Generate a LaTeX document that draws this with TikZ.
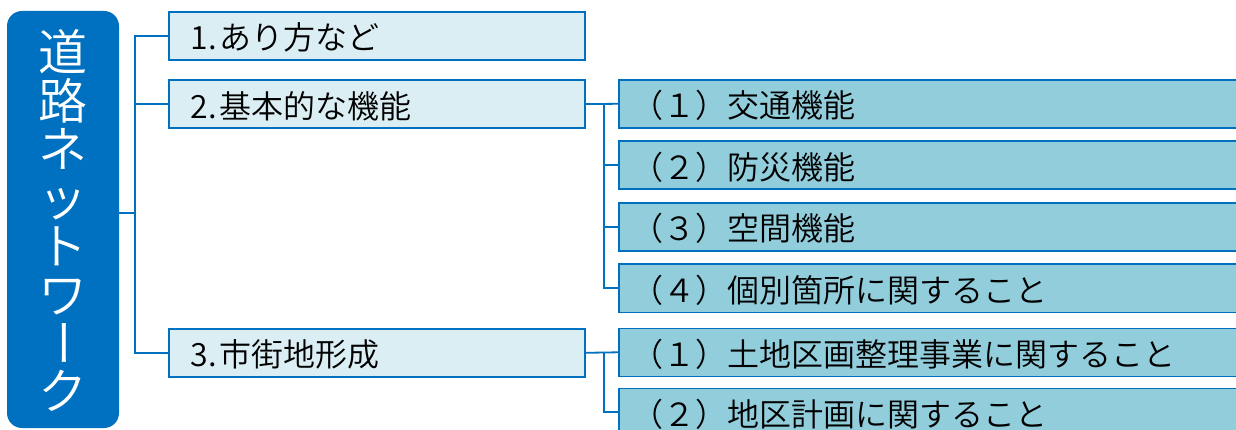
\documentclass[tikz,border=0pt]{standalone}
\usepackage{fontspec}
\setmainfont{Noto Sans CJK JP}[UprightFont={* DemiLight}]
\definecolor{mainblue}{RGB}{0,112,192}
\definecolor{lightfill}{RGB}{218,238,243}
\definecolor{midfill}{RGB}{146,205,220}
\begin{document}
\begin{tikzpicture}[x=1pt,y=-1pt,
  conn/.style={draw=mainblue, line width=1.8pt},
  lvlone/.style={draw=mainblue, line width=1.6pt, fill=lightfill, anchor=north west,
    minimum height=48pt, inner xsep=22pt, inner ysep=0pt, text width=372pt, align=left,
    text height=31pt, text depth=3pt, font=\fontsize{32}{34}\selectfont},
  lvltwo/.style={draw=mainblue, line width=1.6pt, fill=midfill, anchor=north west,
    minimum height=48pt, inner xsep=13pt, inner ysep=0pt, text width=606pt, align=left,
    text height=31pt, text depth=3pt, font=\fontsize{32}{34}\selectfont},
  vchar/.style={text=white, inner sep=0pt, text height=41pt, text depth=5pt,
    font=\fontsize{49}{50}\selectfont},
  rootbox/.style={fill=mainblue, rounded corners=15pt}
]
\clip (0,0) rectangle (1236,430);
\fill[white] (0,0) rectangle (1236,430);

% root
\node[rootbox, minimum width=112pt, minimum height=417pt, inner sep=0pt] (root) at (63,219.5) {};
\node[vchar] (v1) at (63,53) {道};
\node[vchar] (v2) at (63,101.4) {路};
\node[vchar] (v3) at (63,149.8) {ネ};
\node[vchar] (v4) at (63,198.2) {ッ};
\node[vchar] (v5) at (63,246.6) {ト};
\node[vchar] (v6) at (63,295.0) {ワ};
\node[vchar, rotate=-90] (v7) at (63,343.4) {ー};
\node[vchar] (v8) at (63,391.8) {ク};

% level one
\node[lvlone] (b1) at (168,11) {1.\kern3pt あり方など};
\node[lvlone] (b2) at (168,79.3) {2.\kern3pt 基本的な機能};
\node[lvlone] (b3) at (168,328) {3.\kern3pt 市街地形成};

% level two
\node[lvltwo] (c1) at (618,79) {（１）交通機能};
\node[lvltwo] (c2) at (618,140.5) {（２）防災機能};
\node[lvltwo] (c3) at (618,202) {（３）空間機能};
\node[lvltwo] (c4) at (618,263.5) {（４）個別箇所に関すること};
\node[lvltwo] (c5) at (618,327.5) {（１）土地区画整理事業に関すること};
\node[lvltwo] (c6) at (618,387.5) {（２）地区計画に関すること};

% connectors
\coordinate (j1) at (135,213);
\coordinate (j2) at (604,0);
\draw[conn] (root.east |- j1) -- (j1);
\draw[conn] (b1.west) -- (b1.west -| j1) -- (b3.west -| j1) -- (b3.west);
\draw[conn] (b2.west -| j1) -- (b2.west);

\draw[conn] (b2.east) -- (c1.west);
\draw[conn] (b2.east -| j2) |- (c4.west);
\draw[conn] (j2 |- c2.west) -- (c2.west);
\draw[conn] (j2 |- c3.west) -- (c3.west);

\draw[conn] (b3.east) -- (c5.west);
\draw[conn] (b3.east -| j2) |- (c6.west);
\end{tikzpicture}
\end{document}
